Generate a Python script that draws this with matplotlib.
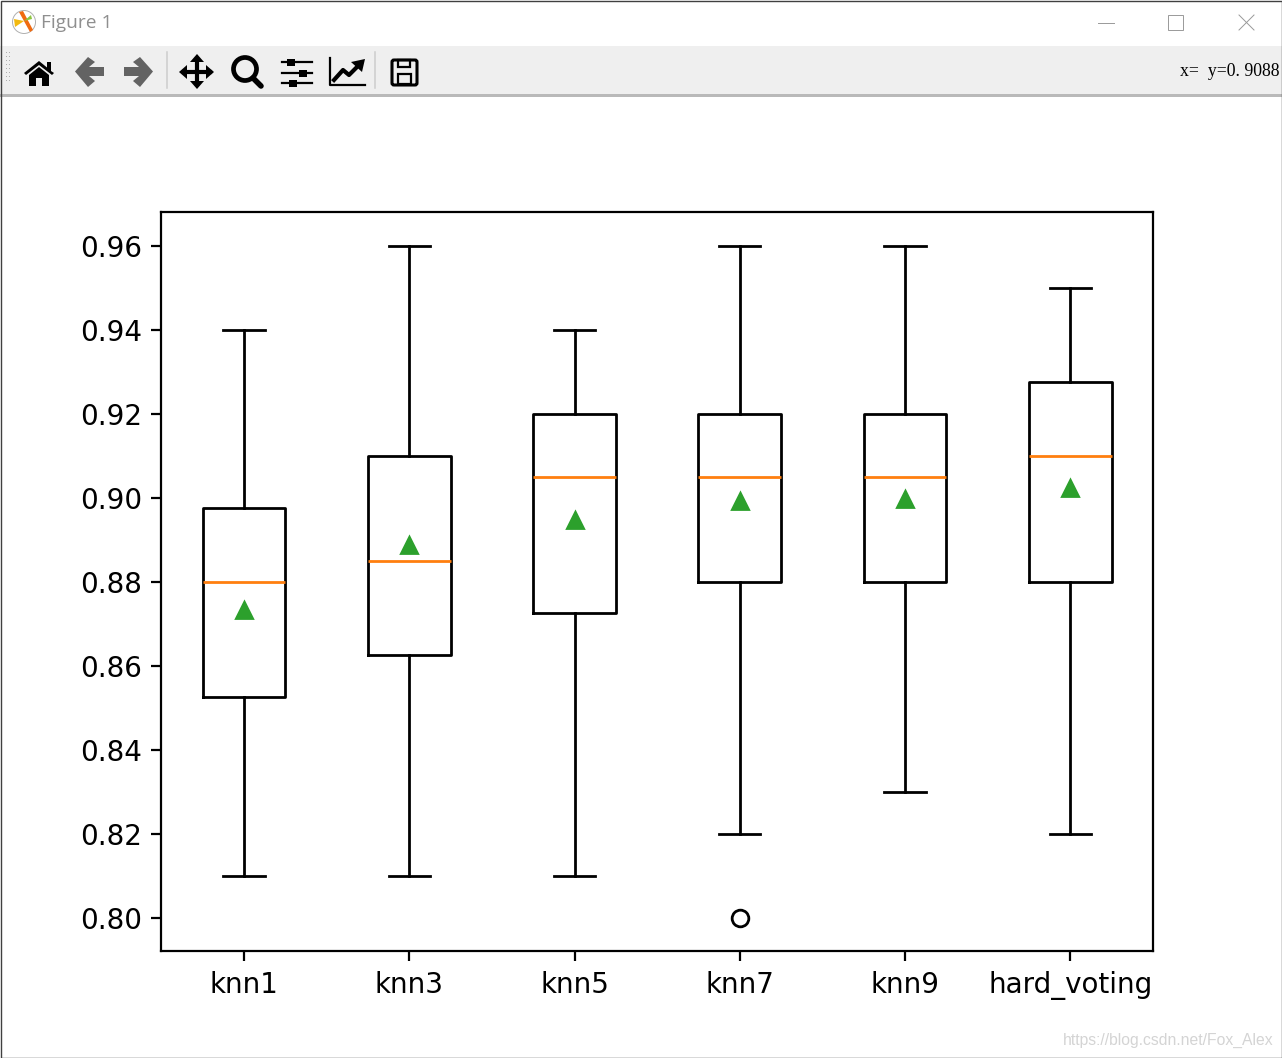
import matplotlib
matplotlib.use("Agg")
import matplotlib.pyplot as plt
from matplotlib.patches import Rectangle, Polygon, Circle, FancyBboxPatch

W, H, DPI = 1282, 1058, 200

labels = ["knn1", "knn3", "knn5", "knn7", "knn9", "hard_voting"]
whis_low = [0.81, 0.81, 0.81, 0.82, 0.83, 0.82]
q1 = [0.8525, 0.8625, 0.8725, 0.88, 0.88, 0.88]
medians = [0.88, 0.885, 0.905, 0.905, 0.905, 0.91]
q3 = [0.8975, 0.91, 0.92, 0.92, 0.92, 0.9275]
whis_high = [0.94, 0.96, 0.94, 0.96, 0.96, 0.95]
means = [0.8732, 0.8888, 0.8946, 0.8993, 0.8996, 0.9024]
fliers = [[], [], [], [0.80], [], []]

fig = plt.figure(figsize=(W / DPI, H / DPI), dpi=DPI, facecolor="white")

# pixel-coordinate layer for the window frame
ui = fig.add_axes([0, 0, 1, 1], zorder=0)
ui.set_xlim(0, W)
ui.set_ylim(H, 0)
ui.axis("off")

ui.add_patch(Rectangle((0, 46), W, 49, fc="#efefef", ec="none"))
ui.add_patch(Rectangle((0, 94), W, 2.5, fc="#b9b9b9", ec="none"))
ui.add_patch(Rectangle((0.5, 0.5), W - 1, H - 1, fc="none", ec="#404040", lw=0.5))

# title bar
ui.add_patch(Circle((24, 22), 11.5, fc="white", ec="#b0b0b0", lw=0.35))
ui.add_patch(Polygon([[19, 12], [23, 11], [33, 30], [30, 32]], fc="#f06a10", ec="none"))
ui.add_patch(Polygon([[14, 19], [24, 21], [15, 27]], fc="#f2b90f", ec="none"))
ui.add_patch(Polygon([[24, 21], [31, 15], [32, 19]], fc="#8cc63f", ec="none"))
ui.text(41, 23.5, "Figure 1", fontsize=6.9, family="Open Sans", color="#8f8f8f", va="center")
ui.plot([1098, 1114], [22.5, 22.5], color="#999999", lw=0.35)
ui.add_patch(Rectangle((1168, 15), 14.5, 14.5, fc="none", ec="#999999", lw=0.35))
ui.plot([1239, 1254], [15, 30], color="#999999", lw=0.35)
ui.plot([1239, 1254], [30, 15], color="#999999", lw=0.35)

# toolbar grip and separators
for gx in (6, 9):
    ui.plot([gx] * 8, [52 + 4 * i for i in range(8)], ls="none", marker="s", ms=0.3,
            mew=0, color="#a8a8a8")
for sx in (167, 375):
    ui.plot([sx, sx], [52, 88], color="#cccccc", lw=0.55)

# home
ui.add_patch(Polygon([[24, 73], [39, 61], [47, 67.5], [47, 62], [51, 62], [51, 71], [54, 73],
                      [52, 75], [39, 65], [26, 75]], fc="black", ec="none"))
ui.add_patch(Polygon([[29, 75], [39, 67], [49, 75], [49, 86], [42, 86], [42, 78], [36, 78], [36, 86], [29, 86]],
                     fc="black", ec="none"))
# back / forward
ui.add_patch(Polygon([[75, 71.5], [88, 57], [95, 62], [89, 67], [104, 67], [104, 76], [89, 76], [95, 81], [88, 87]],
                     fc="#636363", ec="none"))
ui.add_patch(Polygon([[153, 71.5], [140, 57], [133, 62], [139, 67], [124, 67], [124, 76], [139, 76], [133, 81], [140, 87]],
                     fc="#636363", ec="none"))
# pan
ui.plot([197, 197], [60, 84], color="black", lw=1.5)
ui.plot([184, 210], [72, 72], color="black", lw=1.5)
ui.add_patch(Polygon([[197, 54], [190, 62], [204, 62]], fc="black", ec="none"))
ui.add_patch(Polygon([[197, 89], [190, 81], [204, 81]], fc="black", ec="none"))
ui.add_patch(Polygon([[179, 72], [187, 65], [187, 79]], fc="black", ec="none"))
ui.add_patch(Polygon([[214, 72], [206, 65], [206, 79]], fc="black", ec="none"))
# zoom
ui.add_patch(Circle((245, 69), 11.5, fc="none", ec="black", lw=1.7))
ui.plot([253, 261], [78, 86], color="black", lw=2.0, solid_capstyle="round")
# subplots
for yy, xx in ((62, 291), (73, 303), (83, 293)):
    ui.plot([282, 312], [yy, yy], color="black", lw=0.8)
    ui.add_patch(Rectangle((xx - 4, yy - 3.5), 8, 7, fc="black", ec="none"))
# edit
ui.plot([330, 330, 365], [58, 85, 85], color="black", lw=0.8)
ui.plot([334, 343, 349, 359], [80, 70, 75, 65], color="black", lw=1.5)
ui.add_patch(Polygon([[365, 59], [351, 62], [362, 72]], fc="black", ec="none"))
# save
ui.add_patch(FancyBboxPatch((392, 60), 25, 25, boxstyle="round,pad=0,rounding_size=2",
                            fc="none", ec="black", lw=1.1))
ui.add_patch(Rectangle((398, 60), 12, 7, fc="none", ec="black", lw=0.8))
ui.add_patch(Rectangle((398, 74), 13, 10, fc="none", ec="black", lw=0.8))

ui.text(1279, 71.5, "x=  y=0. 9088", fontsize=6.4, family="Liberation Serif", color="black",
        ha="right", va="center")
ui.text(1273, 1040, "https://blog.csdn.net/Fox_Alex", fontsize=5.7, family="Liberation Sans",
        color="#d4d4d4", ha="right", va="center")

# chart
ax = fig.add_axes([161.3 / W, (H - 951.45) / H, 991.7 / W, 739.45 / H], zorder=1)
stats = [
    {"label": n, "whislo": a, "q1": b, "med": c, "q3": d, "whishi": e, "mean": m, "fliers": f}
    for n, a, b, c, d, e, m, f in zip(labels, whis_low, q1, medians, q3, whis_high, means, fliers)
]
ax.bxp(stats, showmeans=True)
ax.set_yticks([0.80, 0.82, 0.84, 0.86, 0.88, 0.90, 0.92, 0.94, 0.96])
ax.set_yticklabels(["0.80", "0.82", "0.84", "0.86", "0.88", "0.90", "0.92", "0.94", "0.96"])

fig.savefig("out.png", dpi=DPI)
